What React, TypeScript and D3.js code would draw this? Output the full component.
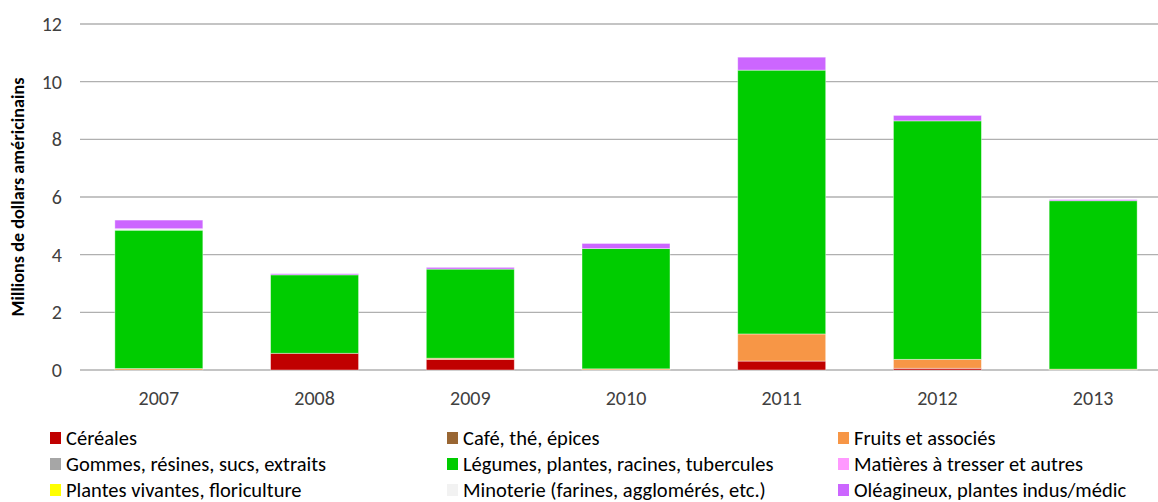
import * as d3 from 'd3';
import React, { useEffect, useRef } from 'react';

// Years on the x axis
const years = ['2007', '2008', '2009', '2010', '2011', '2012', '2013'];

// One array per product group (millions USD)
const cereales = [0, 0.58, 0.37, 0, 0.31, 0.06, 0];
const cafe = [0, 0, 0, 0, 0, 0, 0];
const fruits = [0.05, 0, 0.04, 0.04, 0.94, 0.31, 0.03];
const gommes = [0, 0, 0, 0, 0, 0, 0];
const legumes = [4.8, 2.72, 3.09, 4.17, 9.15, 8.27, 5.84];
const matieres = [0, 0, 0, 0, 0, 0, 0];
const plantes = [0, 0, 0, 0, 0, 0, 0];
const minoterie = [0.05, 0, 0, 0, 0, 0, 0];
const oleagineux = [0.3, 0.04, 0.06, 0.18, 0.45, 0.19, 0.04];

const seriesNames = [
  'Céréales',
  'Café, thé, épices',
  'Fruits et associés',
  'Gommes, résines, sucs, extraits',
  'Légumes, plantes, racines, tubercules',
  'Matières à tresser et autres',
  'Plantes vivantes, floriculture',
  'Minoterie (farines, agglomérés, etc.)',
  'Oléagineux, plantes indus/médic'
];
const seriesValues = [cereales, cafe, fruits, gommes, legumes, matieres, plantes, minoterie, oleagineux];
const seriesColors = [
  '#c00000',
  '#996633',
  '#f79646',
  '#a6a6a6',
  '#00cc00',
  '#ff99ff',
  '#ffff00',
  '#f2f2f2',
  '#cc66ff'
];
const yTicks = [0, 2, 4, 6, 8, 10, 12];

const FONT = "Carlito, 'Liberation Sans Narrow', 'Liberation Sans', Arial, sans-serif";

export default function App() {
  const svgRef = useRef<SVGSVGElement | null>(null);

  useEffect(() => {
    const width = 1158;
    const height = 502;
    const svg = d3.select(svgRef.current).attr('width', width).attr('height', height);
    svg.selectAll('*').remove();

    // scales
    const x = d3.scaleBand().domain(years).range([81, 1171]).paddingInner(0.435).paddingOuter(0.2175);
    const y = d3.scaleLinear().domain([0, 12]).range([370, 24]);

    // gridlines
    svg
      .append('g')
      .selectAll('line')
      .data(yTicks)
      .enter()
      .append('line')
      .attr('x1', 80)
      .attr('x2', width)
      .attr('y1', (d) => y(d))
      .attr('y2', (d) => y(d))
      .attr('stroke', '#b0b0b0')
      .attr('stroke-width', 1.3);

    // y tick labels
    svg
      .append('g')
      .selectAll('text')
      .data(yTicks)
      .enter()
      .append('text')
      .attr('x', 62)
      .attr('y', (d) => y(d))
      .attr('dy', '0.35em')
      .attr('text-anchor', 'end')
      .attr('font-family', FONT)
      .attr('font-size', 20)
      .attr('fill', '#404040')
      .text((d) => d);

    // axis title
    svg
      .append('text')
      .attr('transform', 'translate(24,197) rotate(-90)')
      .attr('text-anchor', 'middle')
      .attr('font-family', FONT)
      .attr('font-size', 18.2)
      .attr('font-weight', 'bold')
      .attr('fill', '#000')
      .text('Millions de dollars américinains');

    // stacked bars
    const table = years.map((yr, i) => {
      const row: any = { year: yr };
      seriesNames.forEach((s, j) => (row[s] = seriesValues[j][i]));
      return row;
    });
    const stacked = d3.stack<any>().keys(seriesNames)(table);

    svg
      .append('g')
      .selectAll('g')
      .data(stacked)
      .enter()
      .append('g')
      .attr('fill', (_, i) => seriesColors[i])
      .selectAll('rect')
      .data((d) => d.filter((p) => p[1] - p[0] > 0))
      .enter()
      .append('rect')
      .attr('x', (d) => x(d.data.year)!)
      .attr('width', x.bandwidth())
      .attr('y', (d) => y(d[1]))
      .attr('height', (d) => y(d[0]) - y(d[1]))
      .attr('stroke', '#ffffff')
      .attr('stroke-opacity', 0.5)
      .attr('stroke-width', 0.8);

    // x labels
    svg
      .append('g')
      .selectAll('text')
      .data(years)
      .enter()
      .append('text')
      .attr('x', (d) => x(d)! + x.bandwidth() / 2)
      .attr('y', 405)
      .attr('text-anchor', 'middle')
      .attr('font-family', FONT)
      .attr('font-size', 20)
      .attr('fill', '#404040')
      .text((d) => d);

    // legend (3 columns x 3 rows)
    const colX = [50, 447, 838];
    const rowY = [438, 464, 490];
    const legend = svg
      .append('g')
      .selectAll('g')
      .data(seriesNames)
      .enter()
      .append('g')
      .attr('transform', (_, i) => `translate(${colX[i % 3]},${rowY[Math.floor(i / 3)]})`);
    legend
      .append('rect')
      .attr('x', 0)
      .attr('y', -6)
      .attr('width', 11)
      .attr('height', 12)
      .attr('fill', (_, i) => seriesColors[i]);
    legend
      .append('text')
      .attr('x', 16)
      .attr('y', 0)
      .attr('dy', '0.35em')
      .attr('font-family', FONT)
      .attr('font-size', 20.5)
      .attr('fill', '#000')
      .text((d) => d);
  }, []);

  return (
    <div style={{ position: 'absolute', left: 0, top: 0 }}>
      <svg ref={svgRef} style={{ display: 'block', background: '#fff' }} />
    </div>
  );
}
